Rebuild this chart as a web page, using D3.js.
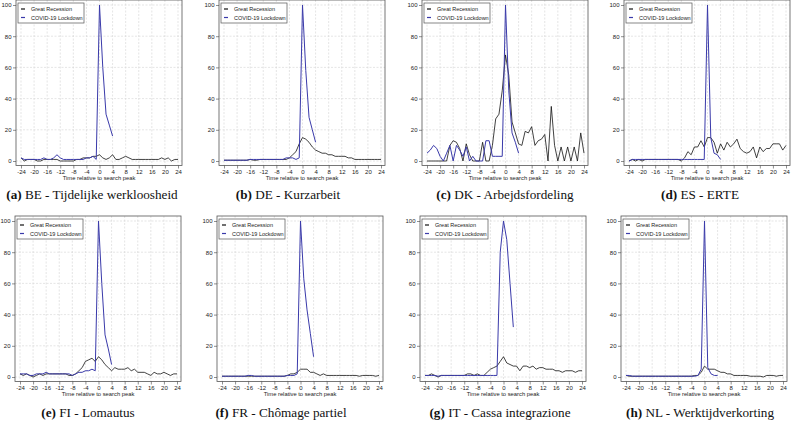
<!DOCTYPE html>
<html><head><meta charset="utf-8">
<script src="https://cdn.jsdelivr.net/npm/d3@7"></script>
<style>body{margin:0;background:#fff}svg{display:block}</style>
</head><body><svg id="c" width="791" height="421"></svg>
<script>
// ---------- data ----------
const months = [-24,-23,-22,-21,-20,-19,-18,-17,-16,-15,-14,-13,-12,-11,-10,-9,-8,-7,-6,-5,-4,-3,-2,-1,0,1,2,3,4,5,6,7,8,9,10,11,12,13,14,15,16,17,18,19,20,21,22,23,24];
const xTicks = [-24,-20,-16,-12,-8,-4,0,4,8,12,16,20,24];
const yTicks = [0,20,40,60,80,100];
const seriesNames = ["Great Recession","COVID-19 Lockdown"];
const panelLabels = ["(a)","(b)","(c)","(d)","(e)","(f)","(g)","(h)"];
const panelTitles = ["BE - Tijdelijke werkloosheid","DE - Kurzarbeit","DK - Arbejdsfordeling","ES - ERTE","FI - Lomautus","FR - Chômage partiel","IT - Cassa integrazione","NL - Werktijdverkorting"];
const xTitle = "Time relative to search peak";

const grBE  = [2,0,1,1,1,0,0,1,1,1,1,1,0,0,0,0,0,1,1,2,2,2,3,3,4,2,1,2,4,1,1,2,3,2,1,1,1,1,1,1,1,1,1,2,1,2,0,1,1];
const covBE = [2,1,1,1,1,1,1,2,1,1,2,4,2,1,1,1,1,1,1,1,2,2,3,1,100,60,30,23,16];
const grDE  = [0.5,0.5,0.5,0.5,0.5,0.5,0.5,0.5,1,0.5,0.5,1,1,1,1,1,1,1,1,1,2,4,6,11,15,14,12,9,7,6,5,5,4,4,3,3,3,3,2,2,1,1,1,1,1,1,1,1,1];
const covDE = [0.5,0.5,0.5,0.5,0.5,0.5,0.5,0.5,1,1,1,1,1,1,1,1,1,1,1,2,2,2,1,2,100,58,28,20,12];
const grDK  = [0,0,0,0,0,0,0,10,13,12,8,0,11,4,0,0,0,12,0,0,10,27,30,45,68,55,25,18,11,10,19,18,22,10,13,14,17,0,35,10,0,9,0,9,0,9,0,18,5];
const covDK = [5,7,10,8,3,0,5,10,0,10,7,3,9,0,3,0,0,0,13,13,3,3,3,3,100,45,18,12,5];
const grES  = [0,1,0,1,0,1,1,1,1,1,1,1,1,1,1,1,0,2,6,4,9,9,13,9,15,15,12,5,11,7,12,9,11,14,8,6,5,6,9,2,9,6,8,8,11,11,11,7,10];
const covES = [0,1,1,1,1,1,1,1,1,1,1,1,1,1,1,1,1,1,1,1,1,1,1,1,100,15,5,4,1];
const grFI  = [2,1,2,1,0,1,2,1,2,2,2,2,2,2,2,1,1,2,4,6,10,11,12,10,13,11,8,6,4,6,5,5,5,6,4,5,3,3,3,2,1,3,2,2,3,2,1,2,2];
const covFI = [2,2,2,1,1,2,2,2,3,2,2,2,2,2,2,2,1,2,3,3,4,4,5,4,100,60,27,18,8];
const grFR  = [0.5,0.5,0.5,0.5,0.5,0.5,0.5,0.5,0.5,0.5,0.5,0.5,0.5,0.5,0.5,0.5,0.5,0.5,0.5,0.5,1,2,2,3,5,5,5,3,3,2,1,2,1,1,1,1,1,1,1,1,1,1,0.5,1,1,1,1,0.5,1];
const covFR = [0.5,0.5,0.5,0.5,0.5,0.5,0.5,0.5,1,1,0.5,0.5,0.5,0.5,0.5,0.5,0.5,0.5,0.5,0.5,1,1,1,2,100,63,43,28,13];
const grIT  = [1,1,2,1,0,1,1,1,1,1,1,1,1,2,2,1,2,1,1,3,5,6,7,10,13,9,8,7,7,4,7,7,6,7,5,6,6,5,5,5,4,4,3,4,4,4,3,4,4];
const covIT = [1,1,1,1,0.5,1,1,1,1,1,1,1,1,1,1,1,1,1,1,1,1,1,1,80,100,88,60,32];
const grNL  = [1,0.5,0.5,0.5,0.5,0.5,0.5,0.5,0.5,0.5,0.5,0.5,0.5,0.5,0.5,0.5,0.5,0.5,0.5,0.5,0.5,1,1,3,7,5,5,5,4,3,3,2,2,1,1,1,1,1,0.5,0.5,0.5,0.5,0,1,1,1,0.5,1,1];
const covNL = [1,1,0.5,0.5,0.5,0.5,0.5,0.5,0.5,0.5,0.5,0.5,0.5,0.5,0.5,0.5,0.5,0.5,0.5,0.5,0.5,0.5,1,5,100,6,2,1,1];

const grSeries  = [grBE,grDE,grDK,grES,grFI,grFR,grIT,grNL];
const covSeries = [covBE,covDE,covDK,covES,covFI,covFR,covIT,covNL];

// ---------- layout ----------
const plotLeft = [21,224,427,629, 20,222,425,626];
const plotTop  = [5,5,5,5, 221,221,221,221];
const plotW = 157, plotH = 156;
const capX = [92,288,505,700, 88,281,500,700];
const capY = [199,199,199,199, 417,417,417,417];
const colors = ["#111111","#3a3aaa"];

const svg = d3.select("#c");
const sans = "Liberation Sans, Arial, sans-serif";

for (let p = 0; p < 8; p++) {
  const x = d3.scaleLinear().domain([-24,24]).range([plotLeft[p], plotLeft[p]+plotW]);
  const y = d3.scaleLinear().domain([0,100]).range([plotTop[p]+plotH, plotTop[p]]);
  const fL = plotLeft[p]-5, fR = plotLeft[p]+plotW+4, fT = plotTop[p]-5, fB = plotTop[p]+plotH+4.5;
  const g = svg.append("g");

  // grid
  g.selectAll(".vg").data(xTicks).join("line")
    .attr("x1", d=>x(d)).attr("x2", d=>x(d)).attr("y1", fT).attr("y2", fB)
    .attr("stroke","#d4d4d4").attr("stroke-width",0.6).attr("stroke-dasharray","2,1.5");
  g.selectAll(".hg").data(yTicks).join("line")
    .attr("x1", fL).attr("x2", fR).attr("y1", d=>y(d)).attr("y2", d=>y(d))
    .attr("stroke","#d4d4d4").attr("stroke-width",0.6).attr("stroke-dasharray","2,1.5");

  // lines
  const line = d3.line().x(d=>x(d[0])).y(d=>y(d[1]));
  const gr = grSeries[p].map((v,i)=>[months[i], v]);
  const cv = covSeries[p].map((v,i)=>[months[i], v]);
  g.append("path").attr("d", line(gr)).attr("fill","none").attr("stroke",colors[0]).attr("stroke-width",0.8).attr("stroke-linejoin","round");
  g.append("path").attr("d", line(cv)).attr("fill","none").attr("stroke",colors[1]).attr("stroke-width",1).attr("stroke-linejoin","round");

  // frame
  g.append("rect").attr("x",fL).attr("y",fT).attr("width",fR-fL).attr("height",fB-fT)
    .attr("fill","none").attr("stroke","#555").attr("stroke-width",0.8);

  // axes
  const ax = g.append("g").attr("transform",`translate(0,${fB})`)
    .call(d3.axisBottom(x).tickValues(xTicks).tickSize(3).tickPadding(1.5).tickFormat(d=>String(d)));
  ax.select(".domain").remove();
  ax.selectAll("line").attr("stroke","#444").attr("stroke-width",0.6);
  ax.selectAll("text").attr("font-family",sans).attr("font-size",6).attr("fill","#222");
  const ay = g.append("g").attr("transform",`translate(${fL},0)`)
    .call(d3.axisLeft(y).tickValues(yTicks).tickSize(3).tickPadding(1.5));
  ay.select(".domain").remove();
  ay.selectAll("line").attr("stroke","#444").attr("stroke-width",0.6);
  ay.selectAll("text").attr("font-family",sans).attr("font-size",6).attr("fill","#222");

  g.append("text").attr("x",(fL+fR)/2).attr("y",fB+14).attr("text-anchor","middle")
    .attr("font-family",sans).attr("font-size",5.8).attr("fill","#222").text(xTitle);

  // legend
  const lx = fL+2, ly = fT+3;
  g.append("rect").attr("x",lx).attr("y",ly).attr("width",66).attr("height",20)
    .attr("fill","#fff").attr("stroke","#555").attr("stroke-width",0.7);
  seriesNames.forEach((n,i)=>{
    const yy = ly+6 + i*8.5;
    g.append("line").attr("x1",lx+3).attr("x2",lx+7).attr("y1",yy).attr("y2",yy)
      .attr("stroke",colors[i]).attr("stroke-width",1.2);
    g.append("text").attr("x",lx+13).attr("y",yy+2).attr("font-family",sans)
      .attr("font-size",5.5).attr("fill","#222").text(n);
  });

  // caption
  const cap = svg.append("text").attr("x",capX[p]).attr("y",capY[p]).attr("text-anchor","middle")
    .attr("font-family","Liberation Serif, Times New Roman, serif").attr("font-size",13.2).attr("fill","#111");
  cap.append("tspan").attr("font-weight","bold").text(panelLabels[p]);
  cap.append("tspan").text(" " + panelTitles[p]);
}
</script></body></html>
